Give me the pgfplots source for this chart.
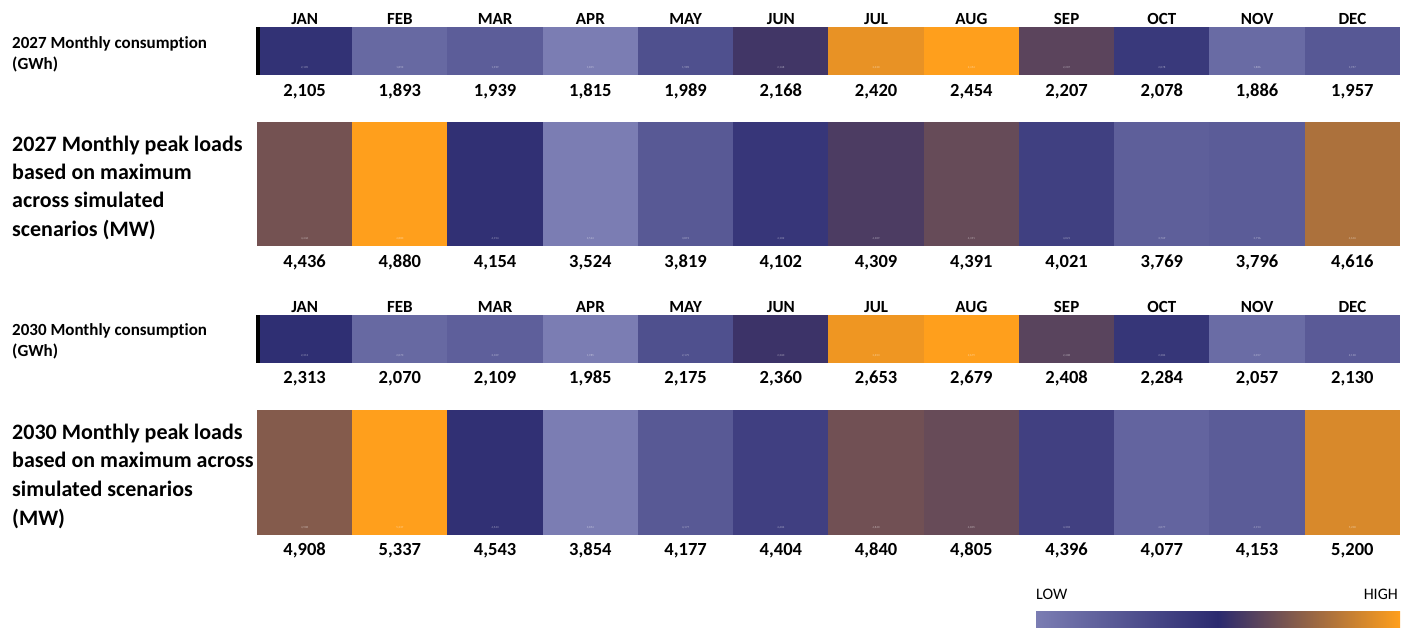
\documentclass[border=0pt]{standalone}
\usepackage{pgfplots}
\pgfplotsset{compat=1.18}
\usepackage{pgfplotstable}
\usepackage{fontspec}
\setmainfont{Carlito}[Ligatures=NoCommon]

% three-point scale: low -> mid -> high
\definecolor{lowc}{RGB}{123,125,179}
\definecolor{midc}{RGB}{43,42,111}
\definecolor{highc}{RGB}{255,159,28}
\pgfplotsset{colormap={lnh}{rgb255=(123,125,179) rgb255=(43,42,111) rgb255=(255,159,28)}}

% one heat-map cell, centred on the data point (a hair wider to close seams)
\newcommand\cellhw{47.8pt}
\newcommand\cellhh{24pt}
\pgfdeclareplotmark{cell}{%
  \pgfpathrectanglecorners{\pgfpoint{-\cellhw}{-\cellhh}}{\pgfpoint{\cellhw}{\cellhh}}%
  \pgfusepathqfill}

% month index, value
\pgfplotstableread{
m v
0 2105
1 1893
2 1939
3 1815
4 1989
5 2168
6 2420
7 2454
8 2207
9 2078
10 1886
11 1957
}\consA

\pgfplotstableread{
m v
0 4436
1 4880
2 4154
3 3524
4 3819
5 4102
6 4309
7 4391
8 4021
9 3769
10 3796
11 4616
}\peakA

\pgfplotstableread{
m v
0 2313
1 2070
2 2109
3 1985
4 2175
5 2360
6 2653
7 2679
8 2408
9 2284
10 2057
11 2130
}\consB

\pgfplotstableread{
m v
0 4908
1 5337
2 4543
3 3854
4 4177
5 4404
6 4840
7 4805
8 4396
9 4077
10 4153
11 5200
}\peakB

\pgfplotsset{
  heatrow/.style={
    scale only axis, width=1143pt, anchor=south west,
    xmin=-0.5, xmax=11.5, ymin=0, ymax=1,
    axis line style={draw=none}, ytick=\empty, xtick=\empty,
    major tick length=0pt, clip=false, colormap name=lnh,
    /pgf/number format/fixed, /pgf/number format/precision=0,
    /pgf/number format/1000 sep={,},
    /pgf/number format/assume math mode=true,
  },
  monthticks/.style={
    xtick={0,...,11},
    xticklabels={JAN,FEB,MAR,APR,MAY,JUN,JUL,AUG,SEP,OCT,NOV,DEC},
    xticklabel pos=upper,
    xticklabel style={font=\fontsize{17}{17}\selectfont\bfseries, anchor=base, yshift=2pt},
  },
  cells/.style={scatter, only marks, mark=cell, point meta=explicit,
    scatter/use mapped color={draw=none, fill=mapped color}},
  vals/.style={draw=none, mark=none, point meta=explicit, nodes near coords,
    every node near coord/.append style={font=\fontsize{18.5}{20}\selectfont\bfseries,
      text=black, anchor=base, yshift=#1}},
  tinyvals/.style={draw=none, mark=none, point meta=explicit, nodes near coords,
    every node near coord/.append style={font=\fontsize{3}{3}\selectfont,
      text=white, opacity=0.55, anchor=base, yshift=#1}},
}

\begin{document}
\begin{tikzpicture}
\useasboundingbox (0pt,0pt) rectangle (1409pt,628pt);

% 2027 consumption
\renewcommand\cellhh{24pt}
\begin{axis}[heatrow, monthticks, at={(257pt,553pt)}, height=48pt]
\addplot[cells] table[x=m, y expr=0.5, meta=v]{\consA};
\addplot[vals=-46pt] table[x=m, y expr=0.5, meta=v]{\consA};
\addplot[tinyvals=-18pt] table[x=m, y expr=0.5, meta=v]{\consA};
\end{axis}
\fill[black] (255.5pt,553pt) rectangle (259.5pt,601pt);

% 2027 peak loads
\renewcommand\cellhh{62pt}
\begin{axis}[heatrow, at={(257pt,382pt)}, height=124pt]
\addplot[cells] table[x=m, y expr=0.5, meta=v]{\peakA};
\addplot[vals=-84pt] table[x=m, y expr=0.5, meta=v]{\peakA};
\addplot[tinyvals=-56pt] table[x=m, y expr=0.5, meta=v]{\peakA};
\end{axis}

% 2030 consumption
\renewcommand\cellhh{24pt}
\begin{axis}[heatrow, monthticks, at={(257pt,265pt)}, height=48pt]
\addplot[cells] table[x=m, y expr=0.5, meta=v]{\consB};
\addplot[vals=-45pt] table[x=m, y expr=0.5, meta=v]{\consB};
\addplot[tinyvals=-18pt] table[x=m, y expr=0.5, meta=v]{\consB};
\end{axis}
\fill[black] (255.5pt,265pt) rectangle (259.5pt,313pt);

% 2030 peak loads
\renewcommand\cellhh{62.5pt}
\begin{axis}[heatrow, at={(257pt,93pt)}, height=125pt]
\addplot[cells] table[x=m, y expr=0.5, meta=v]{\peakB};
\addplot[vals=-83.5pt] table[x=m, y expr=0.5, meta=v]{\peakB};
\addplot[tinyvals=-56.5pt] table[x=m, y expr=0.5, meta=v]{\peakB};
\end{axis}

% row titles
\begin{scope}[every node/.style={anchor=base west, inner sep=0pt}]
\node[font=\fontsize{17}{17}\selectfont\bfseries] at (12pt,579pt) {2027 Monthly consumption};
\node[font=\fontsize{17}{17}\selectfont\bfseries] at (12pt,558pt) {(GWh)};
\node[font=\fontsize{22}{22}\selectfont\bfseries] at (12pt,476pt) {2027 Monthly peak loads};
\node[font=\fontsize{22}{22}\selectfont\bfseries] at (12pt,448pt) {based on maximum};
\node[font=\fontsize{22}{22}\selectfont\bfseries] at (12pt,420pt) {across simulated};
\node[font=\fontsize{22}{22}\selectfont\bfseries] at (12pt,391pt) {scenarios (MW)};
\node[font=\fontsize{17}{17}\selectfont\bfseries] at (12pt,292pt) {2030 Monthly consumption};
\node[font=\fontsize{17}{17}\selectfont\bfseries] at (12pt,271pt) {(GWh)};
\node[font=\fontsize{22}{22}\selectfont\bfseries] at (12pt,188pt) {2030 Monthly peak loads};
\node[font=\fontsize{22}{22}\selectfont\bfseries] at (12pt,160pt) {based on maximum across};
\node[font=\fontsize{22}{22}\selectfont\bfseries] at (12pt,131pt) {simulated scenarios};
\node[font=\fontsize{22}{22}\selectfont\bfseries] at (12pt,102pt) {(MW)};
\end{scope}

% colour key
\shade[left color=lowc, right color=highc, middle color=midc] (1036pt,0pt) rectangle (1400pt,16pt);
\node[anchor=base west, inner sep=0pt, font=\fontsize{16}{16}\selectfont] at (1036pt,28.5pt) {LOW};
\node[anchor=base east, inner sep=0pt, font=\fontsize{16}{16}\selectfont] at (1398pt,28.5pt) {HIGH};
\end{tikzpicture}
\end{document}
